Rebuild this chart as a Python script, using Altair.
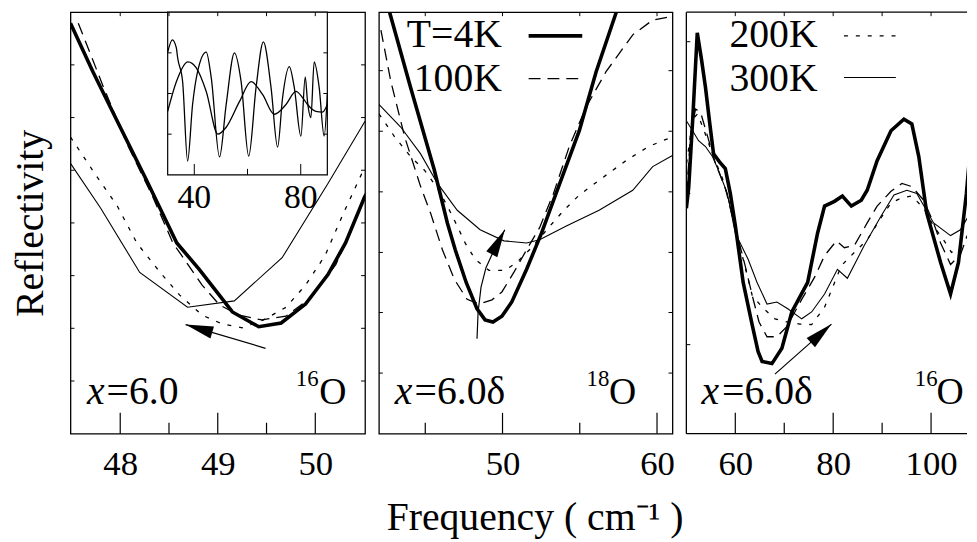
import altair as alt
import pandas as pd

FONT = "Liberation Serif"
H = 425
W1, W2, W3 = 297, 296, 283

# ---------------- panel 1 : x=6.0, 16O ----------------
p1_f_4k = [47.49, 47.72, 47.97, 48.27, 48.58, 48.81, 48.99, 49.15, 49.42, 49.65, 49.90, 50.13, 50.31, 50.51]
p1_r_4k = [7.79, 6.87, 5.93, 4.81, 3.62, 3.12, 2.69, 2.31, 2.03, 2.10, 2.46, 3.02, 3.62, 4.51]
p1_f_100k = [47.57, 47.83, 48.07, 48.33, 48.54, 48.68, 48.84, 49.02, 49.22, 49.45, 49.70, 49.96, 50.21, 50.36, 50.51]
p1_r_100k = [7.79, 6.57, 5.50, 4.51, 3.62, 3.25, 2.82, 2.44, 2.25, 2.16, 2.23, 2.59, 3.21, 3.81, 4.56]
p1_f_200k = [47.49, 47.76, 47.97, 48.17, 48.41, 48.61, 48.84, 49.05, 49.25, 49.47, 49.70, 49.90, 50.10, 50.29, 50.51]
p1_r_200k = [5.63, 4.88, 4.32, 3.62, 3.06, 2.63, 2.25, 2.08, 2.01, 2.16, 2.40, 2.82, 3.38, 4.19, 5.07]
p1_f_300k = [47.49, 47.80, 48.20, 48.69, 49.17, 49.66, 50.13, 50.51]
p1_r_300k = [5.13, 4.28, 3.06, 2.40, 2.52, 3.34, 4.75, 5.93]
p1_arrow_f = [49.49, 48.67]
p1_arrow_r = [1.62, 2.07]

# inset of panel 1 (wide range spectra)
in_f_a = [30.0, 31.76, 33.26, 33.75, 35.62, 37.49, 39.36, 41.24, 44.49, 46.37, 49.48, 51.99, 55.09, 57.60,
          60.45, 63.22, 65.96, 68.84, 71.31, 73.18, 75.69, 77.57, 80.07, 81.69, 82.55, 83.82, 85.06, 86.93,
          88.80, 90.0]
in_r_a = [3.02, 3.32, 3.12, 2.88, 2.29, 0.34, 1.73, 2.54, 3.02, 2.39, 0.44, 1.73, 3.00, 2.29,
          0.46, 2.15, 3.27, 2.15, 0.68, 1.90, 2.66, 2.15, 0.95, 2.41, 1.80, 1.41, 2.78, 2.15,
          0.95, 1.98]
in_f_b = [30.0, 33.26, 37.60, 40.75, 44.49, 48.84, 51.99, 56.97, 61.35, 65.70, 70.07, 74.46, 78.20, 80.67,
          82.55, 85.69, 88.16, 90.0]
in_r_b = [1.56, 2.29, 2.78, 2.63, 2.05, 1.00, 1.17, 1.80, 2.29, 1.97, 1.49, 1.73, 2.05, 1.90,
          1.73, 1.56, 1.54, 1.73]

# ---------------- panel 2 : x=6.0delta, 18O ----------------
p2_f_4k = [42.45, 42.71, 44.05, 45.59, 46.43, 46.94, 47.65, 48.35, 48.87, 49.38, 49.96, 50.60, 51.56, 52.53,
           53.30, 54.97, 56.06, 57.34, 57.73]
p2_r_4k = [8.32, 7.98, 6.57, 5.00, 4.00, 3.49, 2.87, 2.37, 2.16, 2.12, 2.23, 2.50, 3.12, 3.81,
           4.43, 5.75, 6.87, 7.98, 8.32]
p2_f_100k = [42.13, 42.77, 43.67, 44.70, 45.34, 46.11, 46.88, 47.71, 48.48, 49.32, 49.96, 50.73, 51.56, 52.40,
             53.30, 54.32, 55.41, 56.70, 58.43, 59.72, 61.0]
p2_r_100k = [7.66, 6.69, 5.63, 4.69, 4.19, 3.49, 2.93, 2.55, 2.46, 2.54, 2.69, 3.06, 3.49, 3.91,
             4.56, 5.45, 6.20, 6.87, 7.57, 7.85, 7.92]
p2_f_200k = [42.0, 43.03, 44.05, 44.95, 45.79, 46.43, 47.07, 47.58, 48.23, 49.12, 50.15, 50.92, 51.88, 52.98,
             53.94, 54.97, 56.25, 57.98, 59.46, 60.36, 61.0]
p2_r_200k = [6.07, 5.63, 5.26, 5.00, 4.66, 4.32, 3.94, 3.62, 3.31, 3.10, 3.10, 3.25, 3.53, 3.91,
             4.23, 4.53, 4.81, 5.18, 5.45, 5.56, 5.63]
p2_f_300k = [42.0, 43.41, 44.70, 45.79, 47.07, 48.55, 50.09, 51.56, 52.40, 54.13, 56.25, 58.43, 59.72, 61.0]
p2_r_300k = [6.25, 5.82, 5.31, 4.75, 4.24, 3.87, 3.66, 3.62, 3.68, 3.94, 4.24, 4.62, 5.07, 5.28]
p2_arrow_f = [48.35, 48.42, 48.61, 48.93, 49.38, 50.15]
p2_arrow_r = [1.80, 2.31, 2.78, 3.15, 3.44, 3.87]

# ---------------- panel 3 : x=6.0delta, 16O ----------------
p3_f_4k = [50.0, 50.47, 51.28, 52.23, 53.10, 53.91, 54.74, 55.56, 56.77, 57.96, 58.98, 59.99, 61.61, 63.44,
           64.65, 65.47, 67.49, 69.52, 71.55, 73.17, 74.79, 75.80, 76.82, 78.24, 80.26, 81.88, 83.71, 85.74,
           86.95, 88.98, 91.81, 94.45, 96.07, 97.49, 99.11, 101.95, 103.98, 105.60, 107.22, 108.64, 110.06]
p3_r_4k = [4.28, 4.66, 5.93, 7.61, 7.10, 6.57, 5.92, 5.31, 5.16, 5.03, 4.56, 3.96, 2.87, 2.07,
           1.56, 1.37, 1.33, 1.62, 2.31, 2.59, 2.87, 3.34, 3.81, 4.32, 4.41, 4.51, 4.32, 4.43,
           4.62, 5.18, 5.75, 5.97, 5.88, 5.26, 4.19, 3.25, 2.65, 3.25, 4.56, 6.07, 7.57]
p3_f_100k = [50.06, 50.87, 51.88, 52.90, 53.91, 55.94, 57.96, 59.99, 62.01, 63.44, 64.85, 66.48, 68.50, 70.53,
             73.57, 76.21, 78.24, 80.67, 82.29, 84.32, 86.95, 88.98, 91.81, 94.04, 96.07, 98.50, 100.52,
             101.95, 103.98, 106.0, 108.03]
p3_r_100k = [4.56, 5.69, 6.16, 6.10, 5.78, 5.13, 4.66, 3.91, 3.19, 2.63, 2.12, 1.84, 1.84, 2.03,
             2.55, 2.97, 3.38, 3.66, 3.53, 3.57, 4.00, 4.32, 4.60, 4.75, 4.69, 4.43, 4.00,
             3.62, 3.21, 3.40, 3.91]
p3_f_200k = [50.06, 51.28, 52.29, 53.51, 55.33, 57.36, 59.38, 60.60, 61.61, 63.44, 65.47, 68.10, 70.53, 73.17,
             75.60, 78.24, 81.68, 84.32, 86.95, 89.38, 91.81, 93.84, 96.07, 98.50, 100.52, 102.55, 104.17,
             105.99, 108.03]
p3_r_200k = [5.13, 5.97, 6.07, 5.78, 5.31, 4.85, 4.19, 3.68, 3.31, 2.63, 2.40, 2.18, 2.12, 2.08,
             2.07, 2.40, 3.19, 3.44, 3.68, 4.04, 4.38, 4.47, 4.51, 4.28, 3.94, 3.68, 3.44,
             3.53, 3.85]
p3_f_300k = [50.06, 51.28, 52.49, 53.91, 55.33, 56.55, 58.37, 59.99, 62.62, 64.45, 66.48, 68.50, 70.73, 73.57,
             75.60, 78.24, 80.87, 82.90, 86.34, 89.79, 92.42, 95.06, 97.08, 100.52, 103.98, 106.0, 108.03]
p3_r_300k = [5.93, 5.75, 5.56, 5.45, 5.26, 5.00, 4.56, 3.81, 3.31, 2.87, 2.46, 2.50, 2.37, 2.18,
             2.31, 2.65, 3.12, 2.95, 3.57, 4.13, 4.53, 4.62, 4.56, 4.00, 3.76, 3.87, 4.19]
p3_arrow_f = [68.10, 79.65]
p3_arrow_r = [1.13, 2.08]

# ---------------- ticks ----------------
p1_major, p1_minor = [48, 49, 50], [48.5, 49.5]
p2_major, p2_minor = [50, 60], [45, 55]
p3_major, p3_minor = [60, 80, 100], [70, 90]
p1_yticks = [1, 2, 3, 4, 5, 6, 7]
p2_yticks = [1.15, 2.30, 3.44, 4.59, 5.74, 6.89]
p3_yticks = [1.69, 4.56, 7.44]
in_major, in_minor, in_yticks = [40, 80], [60], [1, 2, 3]

# ---------------- texts ----------------
legend_p2 = ["T=4K", "100K"]
legend_p3 = ["200K", "300K"]
sample_label = "=6.0"
sample_label_d = "=6.0\u03b4"

HEAD = "M0,0L0.45,2L-0.45,2Z"
S4 = dict(strokeWidth=3.6)
S100 = dict(strokeWidth=1.3, strokeDash=[12, 7])
S200 = dict(strokeWidth=1.3, strokeDash=[4, 8])
S300 = dict(strokeWidth=1.1)
TXT = 40


def series(fs, rs, xs, ys, interp="linear", **style):
    df = pd.DataFrame({"f": fs, "r": rs, "i": list(range(len(fs)))})
    return alt.Chart(df).mark_line(color="black", clip=True, interpolate=interp, **style).encode(
        x=alt.X("f:Q", scale=xs, axis=None),
        y=alt.Y("r:Q", scale=ys, axis=None),
        order=alt.Order("i:Q"))


def seg(f0, f1, r, xs, ys, **style):
    df = pd.DataFrame({"a": [f0], "b": [f1], "r": [r]})
    return alt.Chart(df).mark_rule(color="black", **style).encode(
        x=alt.X("a:Q", scale=xs, axis=None), x2="b:Q",
        y=alt.Y("r:Q", scale=ys, axis=None))


def arrow(fs, rs, angle, xs, ys):
    line = series(fs, rs, xs, ys, strokeWidth=1.2)
    head = alt.Chart(pd.DataFrame({"f": [fs[-1]], "r": [rs[-1]]})).mark_point(
        shape=HEAD, size=784, angle=angle, filled=True, color="black", opacity=1, strokeWidth=0
    ).encode(x=alt.X("f:Q", scale=xs, axis=None), y=alt.Y("r:Q", scale=ys, axis=None))
    return [line, head]


def text(f, r, s, xs, ys, size=TXT, italic=False, align="left"):
    df = pd.DataFrame({"f": [f], "r": [r], "s": [s]})
    return alt.Chart(df).mark_text(font=FONT, fontSize=size, fontStyle="italic" if italic else "normal",
                                   align=align, baseline="alphabetic", color="black").encode(
        x=alt.X("f:Q", scale=xs, axis=None), y=alt.Y("r:Q", scale=ys, axis=None), text="s:N")


def xaxis(values, title=None, title_x=None):
    kw = dict(values=values, ticks=False, tickSize=0, domain=False, grid=False, labelFont=FONT,
              labelFontSize=35, labelPadding=13, labelColor="black", labelFlush=False, format="d")
    if title is None:
        return alt.Axis(title=None, **kw)
    return alt.Axis(title=title, titleFont=FONT, titleFontSize=40, titleFontWeight="normal",
                    titleColor="black", titlePadding=17, titleX=title_x, **kw)


def ticks_layers(major, minor, yt, xs, ys, W, axis_x, axis_y=None, right=True):
    out = []
    out.append(alt.Chart(pd.DataFrame({"t": major})).mark_rule(color="black", strokeWidth=1.2).encode(
        x=alt.X("t:Q", scale=xs, axis=axis_x), y=alt.value(H), y2=alt.value(H - 21)))
    out.append(alt.Chart(pd.DataFrame({"t": minor})).mark_rule(color="black", strokeWidth=1.2).encode(
        x=alt.X("t:Q", scale=xs, axis=None), y=alt.value(H), y2=alt.value(H - 11)))
    out.append(alt.Chart(pd.DataFrame({"t": sorted(major + minor)})).mark_rule(color="black", strokeWidth=1).encode(
        x=alt.X("t:Q", scale=xs, axis=None), y=alt.value(0), y2=alt.value(4)))
    out.append(alt.Chart(pd.DataFrame({"t": yt})).mark_rule(color="black", strokeWidth=1).encode(
        y=alt.Y("t:Q", scale=ys, axis=axis_y), x=alt.value(0), x2=alt.value(4)))
    if right:
        out.append(alt.Chart(pd.DataFrame({"t": yt})).mark_rule(color="black", strokeWidth=1).encode(
            y=alt.Y("t:Q", scale=ys, axis=None), x=alt.value(W), x2=alt.value(W - 4)))
    return out


ys = alt.Scale(domain=[0, 8], nice=False, zero=False)

# ---------- panel 1 ----------
xs1 = alt.Scale(domain=[47.49, 50.51], nice=False, zero=False)
ixs = alt.Scale(domain=[30, 90], range=[98, 259], nice=False, zero=False)
iys = alt.Scale(domain=[0, 4], range=[164, 0], nice=False, zero=False)
yaxis = alt.Axis(title="Reflectivity", labels=False, ticks=False, tickSize=0, domain=False, grid=False,
                 titleFont=FONT, titleFontSize=40, titleFontWeight="normal", titleColor="black", titlePadding=20)

inset_box = alt.Chart(pd.DataFrame({"a": [30], "b": [90], "c": [0], "d": [4]})).mark_rect(
    fill="white", stroke="black", strokeWidth=1.2).encode(
    x=alt.X("a:Q", scale=ixs, axis=None), x2="b:Q", y=alt.Y("c:Q", scale=iys, axis=None), y2="d:Q")
inset_parts = [
    inset_box,
    series(in_f_a, in_r_a, ixs, iys, interp="monotone", strokeWidth=1.3),
    series(in_f_b, in_r_b, ixs, iys, interp="monotone", strokeWidth=1.3),
    alt.Chart(pd.DataFrame({"t": in_major})).mark_rule(color="black", strokeWidth=1).encode(
        x=alt.X("t:Q", scale=ixs, axis=None), y=alt.value(164), y2=alt.value(153)),
    alt.Chart(pd.DataFrame({"t": in_minor})).mark_rule(color="black", strokeWidth=1).encode(
        x=alt.X("t:Q", scale=ixs, axis=None), y=alt.value(164), y2=alt.value(158)),
    alt.Chart(pd.DataFrame({"t": in_yticks})).mark_rule(color="black", strokeWidth=1).encode(
        y=alt.Y("t:Q", scale=iys, axis=None), x=alt.value(98), x2=alt.value(102)),
    alt.Chart(pd.DataFrame({"t": in_yticks})).mark_rule(color="black", strokeWidth=1).encode(
        y=alt.Y("t:Q", scale=iys, axis=None), x=alt.value(259), x2=alt.value(255)),
    alt.Chart(pd.DataFrame({"t": in_major, "s": [str(v) for v in in_major]})).mark_text(
        font=FONT, fontSize=34, baseline="alphabetic", color="black").encode(
        x=alt.X("t:Q", scale=ixs, axis=None), y=alt.value(197), text="s:N"),
]

p1_layers = [
    series(p1_f_300k, p1_r_300k, xs1, ys, **S300),
    series(p1_f_200k, p1_r_200k, xs1, ys, **S200),
    series(p1_f_100k, p1_r_100k, xs1, ys, **S100),
    series(p1_f_4k, p1_r_4k, xs1, ys, **S4),
    *arrow(p1_arrow_f, p1_arrow_r, 286.5, xs1, ys),
    *inset_parts,
    *ticks_layers(p1_major, p1_minor, p1_yticks, xs1, ys, W1, xaxis(p1_major), yaxis),
    text(47.66, 0.565, "x", xs1, ys, italic=True),
    text(47.86, 0.565, sample_label, xs1, ys),
    text(49.80, 0.90, "16", xs1, ys, size=23),
    text(50.04, 0.565, "O", xs1, ys, size=38),
]
p1 = alt.layer(*p1_layers).resolve_scale(x="independent", y="independent").properties(width=W1, height=H)

# ---------- panel 2 ----------
xs2 = alt.Scale(domain=[42, 61], nice=False, zero=False)
p2_layers = [
    series(p2_f_300k, p2_r_300k, xs2, ys, **S300),
    series(p2_f_200k, p2_r_200k, xs2, ys, **S200),
    series(p2_f_100k, p2_r_100k, xs2, ys, **S100),
    series(p2_f_4k, p2_r_4k, xs2, ys, **S4),
    *arrow(p2_arrow_f, p2_arrow_r, 28, xs2, ys),
    *ticks_layers(p2_major, p2_minor, p2_yticks, xs2, ys, W2,
                  xaxis(p2_major, "Frequency ( cm\u207b\u00b9 )", 157)),
    text(49.96, 7.34, legend_p2[0], xs2, ys, align="right"),
    text(49.96, 6.51, legend_p2[1], xs2, ys, align="right"),
    seg(51.69, 55.16, 7.55, xs2, ys, **S4),
    seg(51.69, 55.16, 6.74, xs2, ys, **S100),
    text(43.03, 0.565, "x", xs2, ys, italic=True),
    text(44.31, 0.565, sample_label_d, xs2, ys),
    text(55.44, 0.90, "18", xs2, ys, size=23),
    text(56.89, 0.565, "O", xs2, ys, size=38),
]
p2 = alt.layer(*p2_layers).resolve_scale(x="independent", y="independent").properties(width=W2, height=H)

# ---------- panel 3 ----------
xs3 = alt.Scale(domain=[50, 50 + W3 / 4.935], nice=False, zero=False)
one = pd.DataFrame({"k": [0]})
frame3 = [
    alt.Chart(one).mark_rule(color="black", strokeWidth=1.3).encode(x=alt.value(0), y=alt.value(0), y2=alt.value(H)),
    alt.Chart(one).mark_rule(color="black", strokeWidth=1.3).encode(x=alt.value(0), x2=alt.value(W3), y=alt.value(0)),
    alt.Chart(one).mark_rule(color="black", strokeWidth=1.3).encode(x=alt.value(0), x2=alt.value(W3), y=alt.value(H)),
]
p3_layers = [
    series(p3_f_300k, p3_r_300k, xs3, ys, **S300),
    series(p3_f_200k, p3_r_200k, xs3, ys, **S200),
    series(p3_f_100k, p3_r_100k, xs3, ys, **S100),
    series(p3_f_4k, p3_r_4k, xs3, ys, **S4),
    *arrow(p3_arrow_f, p3_arrow_r, 48, xs3, ys),
    *frame3,
    *ticks_layers(p3_major, p3_minor, p3_yticks, xs3, ys, W3, xaxis(p3_major), right=False),
    text(76.81, 7.34, legend_p3[0], xs3, ys, align="right"),
    text(76.81, 6.51, legend_p3[1], xs3, ys, align="right"),
    seg(82.2, 92.8, 7.55, xs3, ys, **S200),
    seg(82.2, 92.8, 6.76, xs3, ys, **S300),
    text(53.10, 0.565, "x", xs3, ys, italic=True),
    text(57.29, 0.565, sample_label_d, xs3, ys),
    text(96.67, 0.90, "16", xs3, ys, size=23),
    text(101.12, 0.565, "O", xs3, ys, size=38),
]
p3 = alt.layer(*p3_layers).resolve_scale(x="independent", y="independent").properties(
    width=W3, height=H, view=alt.ViewBackground(stroke="transparent"))

chart = alt.hconcat(p1, p2, p3, spacing=14, bounds="flush").properties(
    padding={"left": 2, "top": 0, "right": 0, "bottom": 0}
).configure_view(stroke="black", strokeWidth=1.3).configure_axis(grid=False)

chart.save("out.html", embed_options={"renderer": "svg", "actions": False})
